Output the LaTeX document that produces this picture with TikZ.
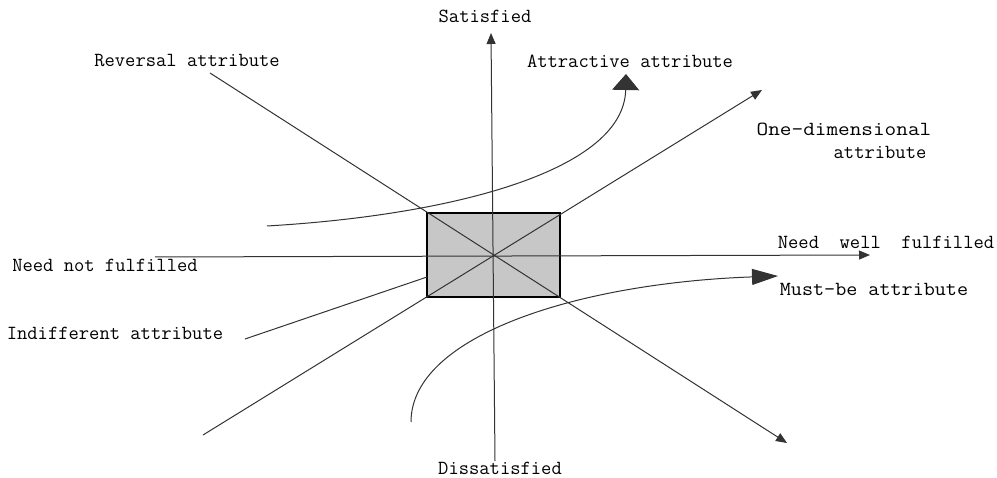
\documentclass[tikz,border=0pt]{standalone}
\usepackage{fontspec}
\usepackage{graphicx}
\usetikzlibrary{arrows.meta}
\begin{document}
\begin{tikzpicture}[x=1pt,y=-1pt,
  lbl/.style={font=\ttfamily\fontsize{20}{23}\selectfont, inner sep=0pt, text=black},
  ln/.style={line width=1pt, draw=black!80},
  axarrow/.style={ln, -{Triangle[length=11pt,width=9pt]}},
  bigup/.style={ln, -{Triangle[length=16pt,width=27pt]}},
  bigright/.style={ln, -{Triangle[length=26pt,width=16pt]}},
  quad/.style={draw=black, line width=1.2pt, fill=black!22, minimum width=133pt, minimum height=84pt, inner sep=0pt}]
\useasboundingbox (0,0) rectangle (997,478);
% central box
\node[quad] (box) at (493.5,255) {};
% coordinates of line ends
\coordinate (vtop) at (491,33);
\coordinate (vbot) at (495,461);
\coordinate (hleft) at (155,257);
\coordinate (hright) at (870,255);
\coordinate (odlo) at (203,435);
\coordinate (odhi) at (762,90);
\coordinate (rvhi) at (210,73);
\coordinate (rvlo) at (787,443);
\coordinate (inA) at (245,339);
\coordinate (inB) at (427,277);
\coordinate (atA) at (267,226);
\coordinate (atB) at (626,74);
\coordinate (mbA) at (411,422);
\coordinate (mbB) at (778,276);
% axes
\draw[axarrow] (vbot) -- (vtop);
\draw[axarrow] (hleft) -- (hright);
\draw[axarrow] (odlo) -- (odhi);
\draw[axarrow] (rvhi) -- (rvlo);
\draw[ln] (inA) -- (inB);
% curves
\draw[bigup] (atA) .. controls (455,215) and (624,170) .. (atB);
\draw[bigright] (mbA) .. controls (411,335) and (580,283) .. (mbB);
% labels
\node[lbl] (sat) at (485,16) {Satisfied};
\node[lbl] (dis) at (500,468) {Dissatisfied};
\node[lbl] (rev) at (187,61) {Reversal attribute};
\node[lbl] (att) at (630,61) {Attractive attribute};
\node[lbl] (one) at (844,129) {\scalebox{1.13}[1]{One-dimensional}};
\node[lbl] (one2) at (880,152) {attribute};
\node[lbl] (nwf) at (886,242) {Need\ \ well\ \ fulfilled};
\node[lbl] (mb) at (874,289) {\scalebox{1.075}[1]{Must-be attribute}};
\node[lbl] (nnf) at (105,265) {Need not fulfilled};
\node[lbl] (ind) at (115,333) {Indifferent attribute};
\end{tikzpicture}
\end{document}
